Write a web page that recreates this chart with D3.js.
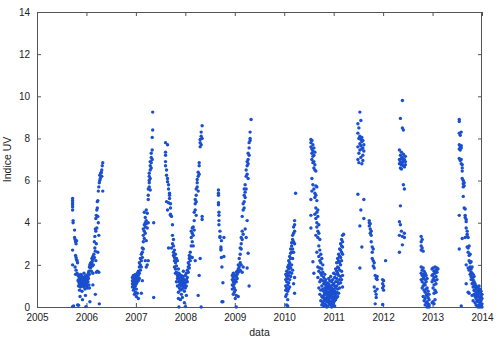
<!DOCTYPE html>
<html><head><meta charset="utf-8">
<script src="https://cdn.jsdelivr.net/npm/d3@7"></script>
<style>body{margin:0;background:#fff}svg{display:block}</style>
</head><body><svg id="c" width="500" height="340"></svg>
<script>
// tick labels
const yearTicks = [2005, 2006, 2007, 2008, 2009, 2010, 2011, 2012, 2013, 2014];
const uvTicks = [0, 2, 4, 6, 8, 10, 12, 14];
const xLabel = "data";
const yLabel = "Indice UV";

// each row: [decimal year, UV values measured around that date...]
const season2006 = [
 [2005.72, 5.15, 5.05, 4.95, 4.85, 4.75, 4.6, 2.7, 2.0, 0.02],
 [2005.73, 4.1, 4.0], [2005.74, 0.05], [2005.76, 3.65, 3.3], [2005.77, 3.2, 1.9],
 [2005.78, 3.1, 2.45, 1.55], [2005.79, 3.0, 2.35, 1.75], [2005.80, 3.15, 2.25],
 [2005.81, 2.2, 1.6], [2005.82, 2.1, 0.1], [2005.83, 1.5, 1.25], [2005.84, 1.3, 0.08, 1.0],
 [2005.85, 1.45, 1.15], [2005.86, 1.1, 0.8, 1.4], [2005.87, 1.35, 0.5, 1.0], [2005.88, 1.2, 1.55, 0.95],
 [2005.89, 1.0, 1.3], [2005.90, 1.5, 1.1], [2005.91, 1.25, 0.75, 1.4], [2005.92, 1.05, 0.35, 1.3],
 [2005.93, 1.4, 1.0], [2005.94, 1.15, 1.35], [2005.95, 0.95, 1.6, 1.2], [2005.96, 1.3, 1.05],
 [2005.97, 1.2, 0.85, 1.45], [2005.98, 1.0, 0.55, 1.3], [2005.99, 1.45, 0.02, 1.15],
 [2006.00, 1.1, 1.5, 1.3], [2006.01, 1.3, 1.0], [2006.02, 0.9, 1.2], [2006.03, 1.2, 1.45],
 [2006.04, 1.35, 1.6], [2006.05, 1.05, 1.7], [2006.06, 1.9, 0.9, 1.55], [2006.07, 2.0, 0.25],
 [2006.08, 1.85, 2.05], [2006.09, 2.1, 1.9], [2006.10, 2.05, 1.7], [2006.11, 2.3, 2.1], [2006.12, 2.2, 1.95],
 [2006.13, 2.4, 1.6, 1.05], [2006.14, 2.0, 2.3], [2006.15, 2.5], [2006.16, 2.35, 3.1],
 [2006.17, 2.8, 3.35], [2006.18, 2.65, 3.7, 0.6], [2006.19, 2.2, 3.6, 4.2],
 [2006.20, 1.65, 3.0, 4.35], [2006.21, 3.75, 4.6], [2006.22, 1.7, 4.7, 5.0],
 [2006.23, 2.6, 4.3, 5.05], [2006.24, 4.0, 5.5], [2006.25, 1.65, 3.4, 5.7],
 [2006.26, 5.9, 0.15], [2006.27, 6.0, 6.25], [2006.28, 6.1], [2006.29, 6.35],
 [2006.30, 6.4], [2006.31, 6.5, 6.2], [2006.32, 6.7], [2006.33, 6.85, 5.5]
];
const season2007 = [
 [2006.93, 1.1, 1.25, 0.95, 1.4], [2006.95, 1.0, 1.2, 1.35, 0.8, 1.5],
 [2006.97, 1.15, 0.9, 1.3, 1.05, 0.6], [2006.99, 1.25, 1.4, 1.0, 1.55, 0.7],
 [2007.01, 1.3, 1.1, 1.45, 0.85, 0.5], [2007.03, 1.2, 1.6, 1.35, 0.65],
 [2007.05, 1.5, 1.25, 1.7, 0.4], [2007.07, 1.9, 1.6, 2.1, 1.35], [2007.09, 2.0, 2.3, 1.75],
 [2007.11, 2.2, 2.5, 1.9, 0.65], [2007.13, 2.6, 2.8, 2.35, 1.25], [2007.15, 3.1, 3.4, 2.75, 3.7],
 [2007.17, 3.25, 3.6, 3.9, 4.5], [2007.19, 3.8, 4.0, 4.25, 3.5, 2.2],
 [2007.21, 4.6, 3.95, 4.1, 3.15, 1.9], [2007.23, 4.45, 3.75, 2.0],
 [2007.25, 5.1, 5.6, 5.3, 4.0, 2.2], [2007.27, 5.9, 6.2, 6.0, 6.35, 5.7],
 [2007.29, 6.5, 6.7, 6.9, 6.1, 5.55], [2007.31, 7.1, 7.3, 6.6, 6.85],
 [2007.33, 7.45, 7.0, 8.05], [2007.34, 9.25, 8.4], [2007.36, 0.45, 4.0]
];
const season2008 = [
 [2007.60, 7.8, 7.35, 7.2, 6.9, 6.7], [2007.62, 6.5, 6.25, 5.0], [2007.64, 7.7, 6.1, 5.95, 4.6],
 [2007.66, 5.8, 5.6, 4.95, 2.8], [2007.68, 5.4, 5.15, 5.3], [2007.70, 4.9, 4.7, 4.4, 4.35],
 [2007.72, 4.3, 2.8], [2007.74, 3.9, 3.4, 3.0], [2007.76, 3.2, 2.9, 2.6, 2.45],
 [2007.78, 2.7, 2.35, 2.2, 1.9], [2007.80, 2.5, 2.1, 1.8, 1.6], [2007.82, 2.3, 1.95, 1.65, 1.2],
 [2007.84, 2.2, 1.5, 1.35, 1.0], [2007.86, 1.8, 1.45, 1.2, 0.7, 0.4], [2007.87, 0.0, 1.6],
 [2007.88, 1.3, 1.05, 0.9, 1.55], [2007.90, 1.4, 1.15, 0.8, 0.35], [2007.92, 1.5, 1.25, 1.0, 0.6],
 [2007.94, 1.35, 1.1, 0.85, 0.45], [2007.96, 1.45, 1.2, 0.95, 1.7], [2007.98, 1.3, 1.05, 0.75, 0.2],
 [2008.00, 1.5, 1.15, 0.9, 0.02], [2008.02, 1.6, 1.3, 1.0, 0.55], [2008.04, 1.4, 1.75, 1.2],
 [2008.06, 1.9, 1.65, 2.1], [2008.08, 2.3, 2.0, 2.45, 1.85], [2008.10, 2.2, 2.4, 2.6],
 [2008.12, 2.9, 3.3, 3.6], [2008.14, 3.1, 3.75, 3.5, 2.35], [2008.16, 3.8, 3.4, 2.9],
 [2008.18, 4.1, 4.5, 3.65], [2008.20, 4.6, 4.9, 5.1, 2.2], [2008.22, 5.0, 5.3, 5.6, 4.35],
 [2008.24, 5.9, 5.7, 6.05], [2008.26, 6.2, 5.5, 6.4, 0.55], [2008.28, 6.7, 6.85, 6.3, 1.5],
 [2008.30, 7.6, 7.8, 7.95, 2.3], [2008.32, 8.1, 7.7, 8.3, 0.0], [2008.34, 8.6, 8.0, 4.15, 4.3]
];
const season2009 = [
 [2008.67, 5.55, 5.4, 5.3, 4.95, 4.85], [2008.68, 4.5, 4.35, 4.1, 3.9], [2008.70, 3.6, 3.35, 3.3],
 [2008.72, 2.85, 2.75, 2.7], [2008.73, 2.35, 3.15], [2008.74, 1.9, 0.25], [2008.76, 1.15, 0.25],
 [2008.78, 3.3, 2.4], [2008.95, 1.3, 1.05, 0.85, 1.5], [2008.97, 1.2, 1.0, 1.4, 0.6, 1.6],
 [2008.99, 1.25, 0.9, 1.1, 0.7], [2009.01, 1.3, 1.5, 0.8, 0.4], [2009.03, 1.45, 1.65, 1.2, 0.0, 0.55],
 [2009.05, 1.7, 1.55, 1.35], [2009.07, 1.8, 1.65, 2.0, 0.5], [2009.09, 1.9, 2.3, 1.7],
 [2009.11, 2.5, 2.8, 2.1, 1.75], [2009.13, 3.0, 2.75, 3.3, 2.0], [2009.15, 3.2, 3.6, 4.3, 1.65],
 [2009.17, 3.45, 4.6, 4.9, 1.9], [2009.19, 5.0, 5.3, 4.7, 5.6], [2009.21, 5.45, 5.8, 5.2, 3.7],
 [2009.23, 5.6, 6.2, 6.5, 3.3], [2009.25, 6.3, 6.7, 6.9, 4.1, 1.85], [2009.27, 6.8, 7.0, 7.3, 6.1, 2.55],
 [2009.29, 7.2, 7.55, 7.8, 1.0], [2009.31, 7.9, 8.0, 8.3], [2009.33, 8.9]
];
const season2010 = [
 [2010.03, 1.3, 1.0, 0.8, 1.55, 0.5], [2010.05, 1.2, 1.45, 0.9, 1.7, 0.6, 0.1],
 [2010.07, 1.35, 1.6, 1.05, 0.75, 1.9, 0.35, 0.05], [2010.09, 1.5, 1.8, 2.0, 1.15, 0.85, 2.2],
 [2010.11, 1.65, 2.1, 1.9, 1.3, 2.4, 0.95], [2010.13, 1.85, 2.3, 2.55, 1.45, 2.75],
 [2010.15, 2.0, 2.6, 2.9, 1.6, 3.05], [2010.17, 2.3, 2.75, 3.2, 3.4, 1.75],
 [2010.19, 3.1, 3.5, 3.8, 2.6, 1.1], [2010.21, 3.6, 3.9, 4.1, 3.0, 1.4, 0.65], [2010.23, 5.4]
];
const season2011 = [
 [2010.54, 7.95, 7.8, 7.6, 5.1, 4.35, 3.75], [2010.56, 7.9, 7.5, 7.3, 7.0, 6.1, 5.5],
 [2010.58, 7.7, 7.4, 7.15, 6.85, 5.8, 2.15], [2010.60, 7.55, 7.2, 6.9, 6.6, 5.6, 1.6],
 [2010.62, 7.35, 6.75, 6.5, 5.4, 5.2, 4.4], [2010.64, 6.45, 5.75, 5.3, 4.7, 4.2, 3.4],
 [2010.66, 5.7, 5.05, 4.5, 4.0, 3.8, 2.6], [2010.68, 4.6, 4.3, 3.6, 3.3, 1.9, 1.4],
 [2010.70, 3.9, 3.5, 2.9, 2.4, 1.7, 0.9], [2010.72, 3.2, 2.7, 2.2, 1.85, 1.2, 0.6],
 [2010.74, 2.5, 2.1, 1.6, 1.3, 0.8, 0.3], [2010.76, 2.3, 1.8, 1.5, 1.0, 0.5, 0.1],
 [2010.78, 2.0, 1.65, 1.25, 0.85, 0.45, 0.2], [2010.80, 1.4, 1.1, 0.75, 0.55, 0.3, 0.05],
 [2010.82, 1.2, 0.9, 0.65, 0.4, 0.15, 1.55], [2010.84, 1.05, 0.8, 0.6, 0.35, 0.1, 1.3],
 [2010.86, 1.15, 0.95, 0.7, 0.45, 0.25, 0.0], [2010.88, 1.0, 0.85, 0.6, 0.5, 0.3, 0.05],
 [2010.90, 1.1, 0.9, 0.7, 0.4, 0.2, 1.35], [2010.92, 1.25, 0.95, 0.75, 0.55, 0.3, 0.1],
 [2010.94, 1.0, 0.8, 0.65, 0.45, 0.15, 1.45], [2010.96, 1.2, 0.9, 0.7, 0.5, 0.25, 0.0],
 [2010.98, 1.3, 1.05, 0.8, 0.6, 0.35, 0.1], [2011.00, 1.1, 0.85, 0.65, 0.4, 0.2, 1.6],
 [2011.02, 1.4, 1.0, 0.75, 0.5, 0.3, 0.05], [2011.04, 1.55, 1.2, 0.9, 0.6, 0.35, 1.8],
 [2011.06, 1.7, 1.35, 1.0, 0.7, 0.45, 2.1], [2011.08, 1.9, 1.6, 1.2, 0.85, 2.3, 0.5],
 [2011.10, 2.2, 1.85, 1.5, 2.5, 1.1, 0.65], [2011.12, 2.4, 2.1, 1.75, 2.75, 1.3, 0.9],
 [2011.14, 2.7, 2.35, 2.0, 3.0, 1.45, 1.15], [2011.16, 2.9, 2.6, 2.2, 3.2, 1.7, 1.3],
 [2011.18, 3.4, 2.85, 2.5, 3.1, 1.5, 0.95], [2011.20, 3.45]
];
const season2012 = [
 [2011.49, 8.7, 8.25, 7.6, 7.0, 5.35], [2011.51, 8.5, 8.0, 7.3, 6.85],
 [2011.53, 9.25, 8.1, 7.75, 7.45, 3.85, 1.85], [2011.55, 8.85, 7.95, 7.65, 7.1, 4.6],
 [2011.57, 8.05, 7.85, 7.5, 6.8, 2.85], [2011.59, 7.9, 7.55, 7.2, 6.95], [2011.61, 7.7, 7.4, 5.1, 4.2],
 [2011.72, 4.1, 4.0, 3.85], [2011.74, 3.95, 3.7, 3.5], [2011.76, 3.6, 3.4, 3.1],
 [2011.78, 2.85, 2.6, 2.3], [2011.80, 2.75, 2.2, 1.95], [2011.82, 2.1, 1.85, 0.95],
 [2011.84, 1.5, 0.75, 0.15], [2011.86, 1.35, 0.6, 0.45], [2011.88, 1.45, 1.3, 0.85],
 [2011.99, 1.3, 1.1, 0.9, 0.12], [2012.01, 1.25, 1.0, 0.8], [2012.05, 2.2]
];
const season2012b = [
 [2012.33, 7.45, 7.0, 6.8, 4.05, 3.4, 2.6], [2012.35, 8.95, 7.2, 6.9, 6.6, 3.9, 4.8],
 [2012.37, 7.35, 7.05, 6.75, 6.55, 3.6], [2012.39, 9.8, 8.5, 7.1, 6.85, 3.35, 2.95],
 [2012.41, 8.4, 7.25, 6.95, 6.7, 5.8], [2012.43, 7.0, 6.65, 5.6, 3.3, 3.5], [2012.45, 6.9, 6.75, 7.15]
];
const season2013 = [
 [2012.77, 3.35, 3.1, 2.9, 2.7, 1.9, 1.6, 1.3], [2012.79, 3.2, 2.8, 1.75, 1.5, 1.2, 0.9],
 [2012.81, 2.65, 1.85, 1.55, 1.35, 1.0, 0.5], [2012.83, 1.7, 1.45, 1.1, 0.8, 0.3],
 [2012.85, 1.6, 1.3, 1.05, 0.7, 0.4, 0.1], [2012.87, 1.5, 1.2, 0.85, 0.55, 0.2],
 [2012.89, 1.35, 0.9, 0.6, 0.25, 0.0], [2012.91, 0.75, 0.45, 0.15, 0.05], [2012.93, 0.6, 0.35, 0.1, 0.0],
 [2012.99, 1.8, 1.5, 1.2, 0.2], [2013.01, 1.85, 1.55, 1.3, 0.9, 0.25], [2013.03, 1.7, 1.4, 1.05, 0.65, 0.15],
 [2013.05, 1.9, 1.6, 1.25, 0.8, 0.35], [2013.07, 1.75, 1.45, 1.1, 0.7], [2013.09, 1.85, 1.65, 1.3], [2013.11, 1.8]
];
const season2014 = [
 [2013.54, 8.9, 8.8, 8.25, 7.7, 7.5, 7.05, 4.35, 2.75], [2013.56, 8.15, 7.6, 7.45, 6.95],
 [2013.58, 8.3, 7.65, 7.55, 7.0, 6.8, 0.05], [2013.60, 6.75, 6.6, 6.45, 6.1, 3.25],
 [2013.62, 6.0, 5.85, 5.7, 5.25], [2013.64, 5.9, 5.75, 4.7], [2013.66, 4.65, 4.25, 4.35, 3.3],
 [2013.68, 4.15, 4.05, 3.75, 2.0, 1.1], [2013.70, 3.6, 3.35, 3.45, 2.85],
 [2013.72, 3.3, 2.8, 2.6, 1.85, 0.7], [2013.74, 2.9, 2.45, 2.2, 1.75, 0.65],
 [2013.76, 2.5, 2.1, 1.9, 1.55], [2013.78, 2.15, 1.8, 1.65, 1.3, 1.45],
 [2013.80, 1.9, 1.6, 1.4, 1.1, 0.55], [2013.82, 1.55, 1.3, 1.15, 0.95, 0.3],
 [2013.84, 1.45, 1.2, 1.0, 0.8, 0.6], [2013.86, 1.1, 0.95, 0.75, 0.5, 0.2],
 [2013.88, 1.0, 0.85, 0.6, 0.4, 0.1], [2013.90, 0.95, 0.7, 0.55, 0.3, 0.05],
 [2013.92, 0.9, 0.75, 0.5, 0.25, 0.0], [2013.94, 1.0, 0.8, 0.6, 0.35, 0.1],
 [2013.96, 0.85, 0.65, 0.45, 0.2, 0.0], [2013.98, 0.75, 0.5, 0.3, 0.1], [2014.00, 0.6, 0.4, 0.15, 0.0]
];

const seasons = [season2006, season2007, season2008, season2009, season2010,
                 season2011, season2012, season2012b, season2013, season2014];
const points = seasons.flatMap(s => s.flatMap(r => r.slice(1).map(v => ({t: r[0], v}))));

const svg = d3.select("#c");
const L = 37, R = 482, T = 12, B = 307;
const x = d3.scaleLinear().domain([2005, 2014]).range([L, R]);
const y = d3.scaleLinear().domain([0, 14]).range([B, T]);
const font = "'Liberation Sans', Arial, Helvetica, sans-serif";
const axisColor = "#555";

function styleAxis(g) {
  g.select(".domain").remove();
  g.selectAll(".tick line").attr("stroke", axisColor);
  g.selectAll(".tick text").attr("fill", "#222").style("font-family", font).style("font-size", "10px");
}

svg.append("g").attr("transform", `translate(0,${B})`)
  .call(d3.axisBottom(x).tickValues(yearTicks).tickFormat(d3.format("d")).tickSizeInner(-4).tickSizeOuter(0).tickPadding(7))
  .call(styleAxis);
svg.append("g").attr("transform", `translate(0,${T})`)
  .call(d3.axisTop(x).tickValues(yearTicks).tickFormat("").tickSizeInner(-4).tickSizeOuter(0))
  .call(styleAxis);
svg.append("g").attr("transform", `translate(${L},0)`)
  .call(d3.axisLeft(y).tickValues(uvTicks).tickFormat(d3.format("d")).tickSizeInner(-4).tickSizeOuter(0).tickPadding(7))
  .call(styleAxis);
svg.append("g").attr("transform", `translate(${R},0)`)
  .call(d3.axisRight(y).tickValues(uvTicks).tickFormat("").tickSizeInner(-4).tickSizeOuter(0))
  .call(styleAxis);

svg.append("rect").attr("x", L + 0.5).attr("y", T + 0.5).attr("width", R - L - 1).attr("height", B - T)
  .attr("fill", "none").attr("stroke", axisColor).attr("stroke-width", 1);

svg.append("g").selectAll("circle").data(points).join("circle")
  .attr("cx", d => x(d.t)).attr("cy", d => y(d.v)).attr("r", 1.7)
  .attr("fill", "#1a4fcf");

svg.append("text").attr("x", (L + R) / 2).attr("y", 336).attr("text-anchor", "middle")
  .style("font-family", font).style("font-size", "10.5px").attr("fill", "#222").text(xLabel);
svg.append("text").attr("transform", `translate(11,${(T + B) / 2}) rotate(-90)`).attr("text-anchor", "middle")
  .style("font-family", font).style("font-size", "10.5px").attr("fill", "#222").text(yLabel);
</script>
</body></html>
